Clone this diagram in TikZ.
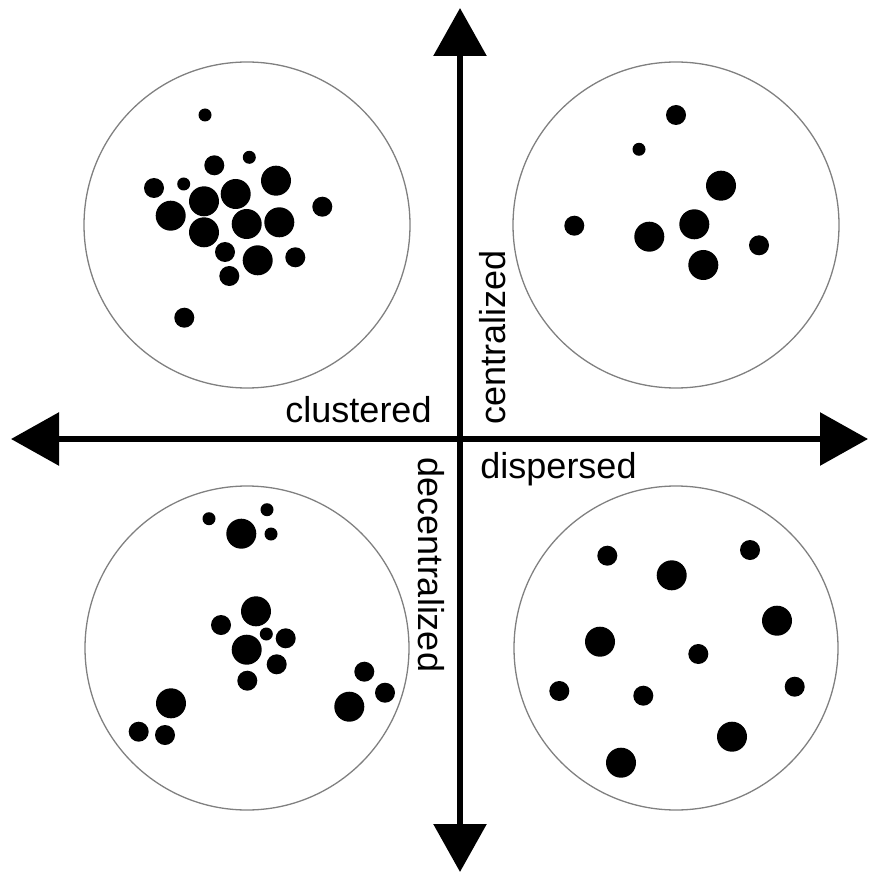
\documentclass[tikz,border=0pt]{standalone}
\usepackage{fontspec}
\setmainfont{Liberation Sans}
\usetikzlibrary{arrows.meta}
\begin{document}
\begin{tikzpicture}[x=1pt,y=-1pt,
  ring/.style={draw=black!50,line width=1.3pt},
  axis/.style={line width=6pt,{Triangle[width=52pt,length=48pt]}-{Triangle[width=52pt,length=48pt]}},
  lab/.style={font=\fontsize{36}{43}\selectfont,inner sep=0pt}]
\useasboundingbox (0,0) rectangle (869,874);
\def\sm{6.5}\def\md{10}\def\lg{15}
% quadrant circles
\draw[ring] (247,225) circle (163);
\draw[ring] (676,225) circle (163);
\draw[ring] (247,648) circle (162);
\draw[ring] (676,648) circle (162);
% top-left: clustered, centralized
\foreach \x/\y/\r in {205/115/\sm,214.3/165.3/\md,249.3/157.3/\sm,276/180.7/\lg,154/188/\md,183.7/184/\sm,
  204/201.3/\lg,235.7/194/\lg,170.7/215.7/\lg,322.3/206.7/\md,204/232.3/\lg,246.7/224/\lg,279.3/222.3/\lg,
  225/252/\md,257.7/260.3/\lg,295.3/257.3/\md,229.3/276/\md,184.3/317.7/\md}
  \fill (\x,\y) circle (\r);
% top-right: dispersed, centralized
\foreach \x/\y/\r in {676/115/\md,639/149.3/\sm,721/185.7/\lg,574.3/225.7/\md,649.3/236.7/\lg,694.3/224.3/\lg,
  759/245.3/\md,703.3/265/\lg}
  \fill (\x,\y) circle (\r);
% bottom-left: clustered, decentralized
\foreach \x/\y/\r in {209/518.7/\sm,241.3/533.7/\lg,267/509.7/\sm,271/534/\sm,256/611.3/\lg,221/625/\md,
  266.3/634/\sm,285.7/638.3/\md,246.7/649.7/\lg,276.7/664.3/\md,247.3/680.7/\md,171/703.3/\lg,
  138.7/731.7/\md,165/735/\md,364.3/671.7/\md,385/692.7/\md,349.3/706.7/\lg}
  \fill (\x,\y) circle (\r);
% bottom-right: dispersed, decentralized
\foreach \x/\y/\r in {607.3/555.7/\md,671.7/575.3/\lg,750/550/\md,777/620.7/\lg,600/641.7/\lg,698.3/654/\md,
  559.3/691/\md,643.3/695.7/\md,794.7/686.7/\md,732/736.7/\lg,621/762.7/\lg}
  \fill (\x,\y) circle (\r);
% axes
\coordinate (top) at (460,8);
\coordinate (bottom) at (460,872);
\coordinate (left) at (11,439);
\coordinate (right) at (868,439);
\draw[axis] (bottom) -- (top);
\draw[axis] (left) -- (right);
% labels
\node[lab,anchor=base] (clu) at (358.5,422) {clustered};
\node[lab,anchor=base] (dis) at (558.5,478) {dispersed};
\node[lab,anchor=base,rotate=90] (cen) at (505,337.5) {centralized};
\node[lab,anchor=base,rotate=-90] (dec) at (418,565) {decentralized};
\end{tikzpicture}
\end{document}
